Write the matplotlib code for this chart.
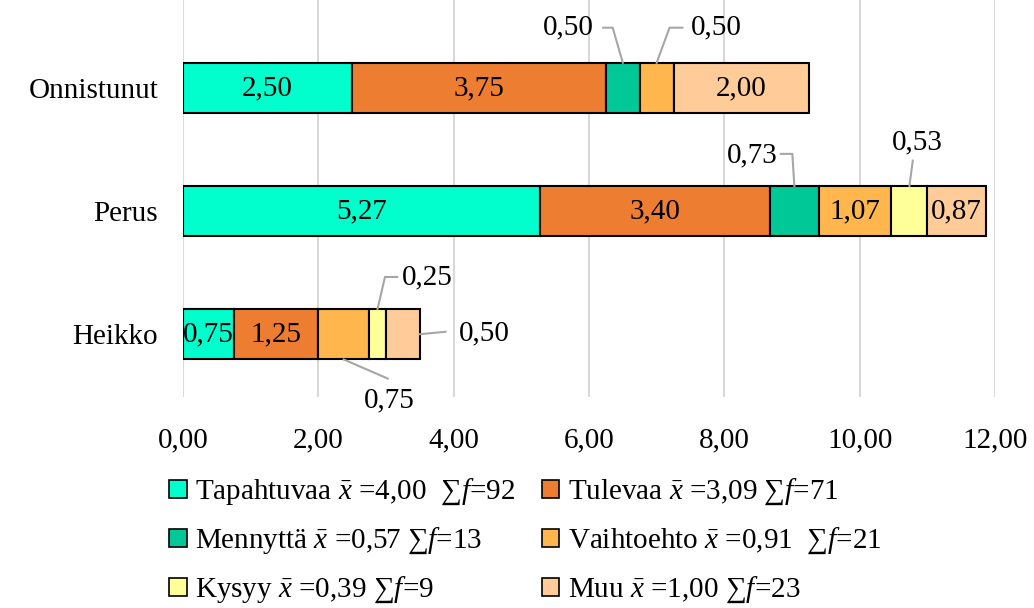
import matplotlib.pyplot as plt
import numpy as np

plt.rcParams['font.family'] = ['Liberation Serif', 'DejaVu Serif']
plt.rcParams['mathtext.fontset'] = 'custom'
plt.rcParams['mathtext.rm'] = 'Liberation Serif'
plt.rcParams['mathtext.it'] = 'Liberation Serif:italic'

rows = ["Onnistunut", "Perus", "Heikko"]
series = ["Tapahtuvaa", "Tulevaa", "Mennyttä", "Vaihtoehto", "Kysyy", "Muu"]
means = ["4,00", "3,09", "0,57", "0,91", "0,39", "1,00"]
counts = [92, 71, 13, 21, 9, 23]
colors = ["#00FFCC", "#ED7D31", "#00C896", "#FFB74D", "#FFFF99", "#FFCC99"]

tapahtuvaa = [2.50, 5.27, 0.75]
tulevaa = [3.75, 3.40, 1.25]
mennytta = [0.50, 0.73, 0.00]
vaihtoehto = [0.50, 1.07, 0.75]
kysyy = [0.00, 0.53, 0.25]
muu = [2.00, 0.87, 0.50]
values = [tapahtuvaa, tulevaa, mennytta, vaihtoehto, kysyy, muu]

FS = 21

# small segments get a label outside the bar with a grey leader line
# (row, series index): label offset (dx, dy) and leader points relative to the anchor
callouts = {
    (0, 2): dict(anchor="top", label=(-0.80, -0.49), line=[(0, 0), (-0.15, -0.285), (-0.29, -0.285)]),
    (0, 3): dict(anchor="top", label=(0.88, -0.49), line=[(0, 0), (0.19, -0.285), (0.38, -0.285)]),
    (1, 2): dict(anchor="top", label=(-0.62, -0.45), line=[(0, 0), (-0.03, -0.26), (-0.20, -0.26)]),
    (1, 4): dict(anchor="top", label=(0.12, -0.56), line=[(0, 0), (0.05, -0.205)]),
    (2, 4): dict(anchor="top", label=(0.74, -0.46), line=[(0, 0), (0.11, -0.26), (0.29, -0.26)]),
    (2, 5): dict(anchor="right", label=(0.95, -0.01), line=[(0, 0), (0.38, -0.02)]),
    (2, 3): dict(anchor="bottom", label=(0.68, 0.54), line=[(0, 0), (0.65, 0.155)]),
}

fig = plt.figure(figsize=(10.34, 6.08), dpi=100)
ax = fig.add_axes([183 / 1034, 1 - 397 / 608, 812 / 1034, 397 / 608])

y = np.arange(len(rows))
h = 0.41
left = np.zeros(len(rows))
bars = []
for s, (vals, c) in enumerate(zip(values, colors)):
    b = ax.barh(y, vals, left=left, height=h, color=c, edgecolor="black", linewidth=1.5, zorder=3)
    bars.append(b)
    for i, v in enumerate(vals):
        if v == 0:
            continue
        txt = f"{v:.2f}".replace(".", ",")
        cx = left[i] + v / 2
        if (i, s) in callouts:
            co = callouts[(i, s)]
            if co["anchor"] == "top":
                ax0, ay0 = cx, y[i] - h / 2
            elif co["anchor"] == "bottom":
                ax0, ay0 = cx, y[i] + h / 2
            else:
                ax0, ay0 = left[i] + v, y[i]
            lx = [ax0 + p[0] for p in co["line"]]
            ly = [ay0 + p[1] for p in co["line"]]
            ax.plot(lx, ly, color="#A6A6A6", lw=1.5, zorder=4, clip_on=False)
            bx = left[i] + v if co["anchor"] == "right" else cx
            ax.text(bx + co["label"][0], y[i] + co["label"][1], txt, ha="center", va="center",
                    fontsize=FS, zorder=5, clip_on=False)
        else:
            ax.text(cx, y[i], txt, ha="center", va="center", fontsize=FS, zorder=5)
    left = left + np.array(vals)

ax.set_xlim(0, 12)
ax.set_ylim(2.51, -0.715)
ticks = np.arange(0, 13, 2)
ax.set_xticks(ticks)
ax.set_xticklabels([f"{t:.2f}".replace(".", ",") for t in ticks], fontsize=FS)
ax.set_yticks(y)
ax.set_yticklabels(rows, fontsize=FS)
ax.tick_params(axis="both", length=0)
ax.tick_params(axis="x", pad=22)
ax.tick_params(axis="y", pad=18)
ax.grid(axis="x", color="#D9D9D9", lw=1.5, zorder=0)
for sp in ax.spines.values():
    sp.set_visible(False)

gaps = ["  ", " ", " ", "  ", " ", " "]
labels = [f"{n} $\\bar{{x}}$ =" + m + g + f"∑$f$={c}"
          for n, m, g, c in zip(series, means, gaps, counts)]
order = [0, 2, 4, 1, 3, 5]
leg = fig.legend([bars[k] for k in order], [labels[k] for k in order], ncol=2,
                 loc="upper left", bbox_to_anchor=(169 / 1034, 1 - 477 / 608),
                 frameon=False, fontsize=FS, handlelength=0.6, handleheight=0.6,
                 handletextpad=0.3, columnspacing=0.9, labelspacing=0.64,
                 borderaxespad=0, borderpad=0)
for hdl in leg.legend_handles:
    hdl.set_linewidth(1.2)

fig.savefig("out.png", dpi=100)
